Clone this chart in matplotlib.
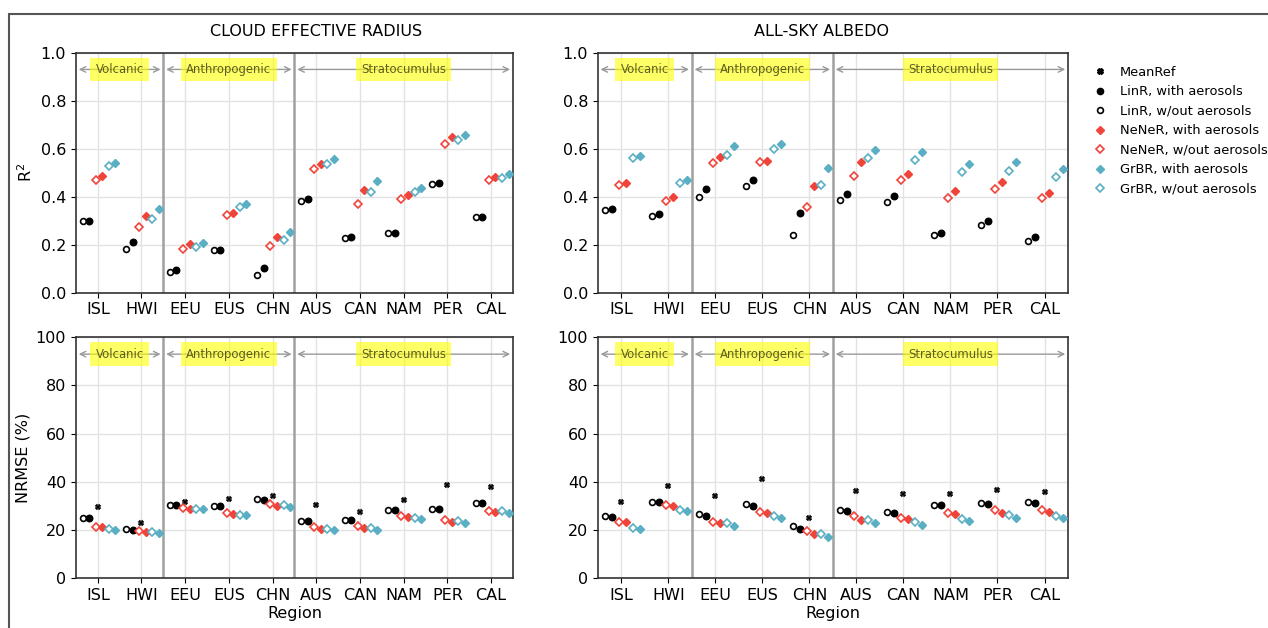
import matplotlib
matplotlib.use("Agg")
import matplotlib.pyplot as plt
import numpy as np
from matplotlib.patches import Rectangle
from matplotlib.lines import Line2D

regions = ["ISL", "HWI", "EEU", "EUS", "CHN", "AUS", "CAN", "NAM", "PER", "CAL"]

# R2, cloud effective radius
cer_r2_linr_wo = [0.299, 0.181, 0.088, 0.178, 0.074, 0.383, 0.229, 0.247, 0.453, 0.315]
cer_r2_linr_w = [0.299, 0.210, 0.094, 0.178, 0.103, 0.389, 0.232, 0.247, 0.458, 0.315]
cer_r2_nener_wo = [0.471, 0.274, 0.183, 0.322, 0.194, 0.514, 0.371, 0.390, 0.621, 0.468]
cer_r2_nener_w = [0.486, 0.318, 0.201, 0.333, 0.231, 0.535, 0.426, 0.408, 0.650, 0.483]
cer_r2_grbr_wo = [0.528, 0.307, 0.192, 0.356, 0.219, 0.535, 0.418, 0.421, 0.636, 0.476]
cer_r2_grbr_w = [0.540, 0.349, 0.208, 0.369, 0.251, 0.557, 0.464, 0.438, 0.658, 0.493]

# R2, all-sky albedo
alb_r2_linr_wo = [0.343, 0.319, 0.400, 0.443, 0.242, 0.386, 0.378, 0.240, 0.282, 0.217]
alb_r2_linr_w = [0.350, 0.328, 0.433, 0.471, 0.331, 0.411, 0.403, 0.250, 0.297, 0.232]
alb_r2_nener_wo = [0.450, 0.383, 0.539, 0.543, 0.356, 0.488, 0.471, 0.394, 0.433, 0.394]
alb_r2_nener_w = [0.456, 0.400, 0.567, 0.550, 0.446, 0.544, 0.494, 0.424, 0.461, 0.414]
alb_r2_grbr_wo = [0.560, 0.458, 0.575, 0.597, 0.447, 0.561, 0.553, 0.501, 0.506, 0.483]
alb_r2_grbr_w = [0.571, 0.468, 0.611, 0.619, 0.518, 0.594, 0.588, 0.538, 0.543, 0.517]

# NRMSE (%), cloud effective radius
cer_nrmse_meanref = [29.6, 22.7, 31.7, 33.0, 34.1, 30.3, 27.4, 32.5, 38.6, 37.8]
cer_nrmse_linr_wo = [24.8, 20.5, 30.5, 29.9, 32.8, 23.8, 24.1, 28.3, 28.5, 31.3]
cer_nrmse_linr_w = [24.8, 19.9, 30.3, 29.9, 32.4, 23.7, 24.0, 28.3, 28.5, 31.3]
cer_nrmse_nener_wo = [21.3, 19.7, 28.9, 27.0, 30.9, 21.2, 21.6, 25.8, 24.1, 27.7]
cer_nrmse_nener_w = [21.0, 19.0, 28.6, 26.7, 30.1, 20.5, 20.6, 25.2, 23.1, 27.3]
cer_nrmse_grbr_wo = [20.2, 19.3, 28.6, 26.3, 30.3, 20.5, 20.8, 24.9, 23.5, 27.7]
cer_nrmse_grbr_w = [19.9, 18.7, 28.5, 26.0, 29.5, 19.9, 19.8, 24.5, 22.9, 27.1]

# NRMSE (%), all-sky albedo
alb_nrmse_meanref = [31.6, 38.4, 34.1, 41.1, 24.9, 36.3, 34.8, 34.8, 36.7, 35.6]
alb_nrmse_linr_wo = [25.6, 31.7, 26.6, 30.7, 21.7, 28.4, 27.4, 30.5, 31.0, 31.6]
alb_nrmse_linr_w = [25.5, 31.4, 25.8, 29.9, 20.4, 27.8, 26.9, 30.2, 30.7, 31.3]
alb_nrmse_nener_wo = [23.4, 30.5, 23.4, 27.4, 19.7, 25.9, 25.1, 27.1, 28.1, 28.1]
alb_nrmse_nener_w = [23.1, 30.1, 22.7, 27.1, 18.3, 24.2, 24.7, 26.6, 27.1, 27.3]
alb_nrmse_grbr_wo = [20.9, 28.3, 22.7, 25.9, 18.4, 24.1, 23.1, 24.7, 26.2, 25.9]
alb_nrmse_grbr_w = [20.4, 28.0, 21.5, 25.1, 17.0, 23.0, 22.2, 23.7, 25.1, 24.9]

groups = [("Volcanic", -0.5, 1.5), ("Anthropogenic", 1.5, 4.5), ("Stratocumulus", 4.5, 9.5)]

RED = "#f0443a"
BLUE = "#5aafc4"
FS = 11.5

x = np.arange(len(regions))


def draw_models(ax, linr_wo, linr_w, nener_wo, nener_w, grbr_wo, grbr_w, meanref=None):
    ms = 4.2
    if meanref is not None:
        ax.plot(x, meanref, "X", color="black", ms=ms, mew=0.3, zorder=5)
    ax.plot(x - 0.35, linr_wo, "o", mfc="white", mec="black", mew=1.2, ms=ms, zorder=5)
    ax.plot(x - 0.20, linr_w, "o", color="black", ms=ms + 0.5, zorder=5)
    ax.plot(x - 0.05, nener_wo, "D", mfc="white", mec=RED, mew=1.2, ms=ms, zorder=5)
    ax.plot(x + 0.10, nener_w, "D", color=RED, ms=ms + 0.3, zorder=5)
    ax.plot(x + 0.25, grbr_wo, "D", mfc="white", mec=BLUE, mew=1.2, ms=ms, zorder=5)
    ax.plot(x + 0.40, grbr_w, "D", color=BLUE, ms=ms + 0.3, zorder=5)


def style_axes(ax, ymax, yticks):
    ax.set_xlim(-0.5, 9.5)
    ax.set_ylim(0, ymax)
    ax.set_xticks(x)
    ax.set_xticklabels(regions, fontsize=FS)
    ax.set_yticks(yticks)
    ax.tick_params(axis="y", labelsize=FS)
    ax.grid(True, color="#e2e2e2", linewidth=1)
    ax.set_axisbelow(True)
    for s in ax.spines.values():
        s.set_color("#333333")
        s.set_linewidth(1.2)
    for b in (1.5, 4.5):
        ax.axvline(b, color="#a0a0a0", linewidth=1.8, zorder=2)
    for name, lo, hi in groups:
        ax.annotate("", xy=(lo, 0.93), xytext=(hi, 0.93),
                    xycoords=("data", "axes fraction"), textcoords=("data", "axes fraction"),
                    arrowprops=dict(arrowstyle="<->", color="#999999", lw=1))
        ax.text((lo + hi) / 2, 0.93, name, transform=ax.get_xaxis_transform(),
                ha="center", va="center", fontsize=8.4, color="black", alpha=0.62,
                bbox=dict(boxstyle="square,pad=0.45", fc="yellow", ec="none", alpha=0.6))


fig = plt.figure(figsize=(12.68, 6.28), dpi=100)

# frame around the figure
fig.patches.append(Rectangle((9 / 1268, -0.1), 1.2, 1 - 14 / 628 + 0.1, transform=fig.transFigure,
                             fill=False, edgecolor="#555555", linewidth=1.5))

ax_tl = fig.add_axes([0.0599, 0.534, 0.3446, 0.3822])
ax_tr = fig.add_axes([0.4714, 0.534, 0.3709, 0.3822])
ax_bl = fig.add_axes([0.0599, 0.0796, 0.3446, 0.3833])
ax_br = fig.add_axes([0.4714, 0.0796, 0.3709, 0.3833])

r2_ticks = [0.0, 0.2, 0.4, 0.6, 0.8, 1.0]
nrmse_ticks = [0, 20, 40, 60, 80, 100]

style_axes(ax_tl, 1.0, r2_ticks)
draw_models(ax_tl, cer_r2_linr_wo, cer_r2_linr_w, cer_r2_nener_wo, cer_r2_nener_w,
            cer_r2_grbr_wo, cer_r2_grbr_w)
ax_tl.set_ylabel("R$^2$", fontsize=FS)

style_axes(ax_tr, 1.0, r2_ticks)
draw_models(ax_tr, alb_r2_linr_wo, alb_r2_linr_w, alb_r2_nener_wo, alb_r2_nener_w,
            alb_r2_grbr_wo, alb_r2_grbr_w)

style_axes(ax_bl, 100, nrmse_ticks)
draw_models(ax_bl, cer_nrmse_linr_wo, cer_nrmse_linr_w, cer_nrmse_nener_wo, cer_nrmse_nener_w,
            cer_nrmse_grbr_wo, cer_nrmse_grbr_w, cer_nrmse_meanref)
ax_bl.set_ylabel("NRMSE (%)", fontsize=FS)
ax_bl.set_xlabel("Region", fontsize=FS, labelpad=2)

style_axes(ax_br, 100, nrmse_ticks)
draw_models(ax_br, alb_nrmse_linr_wo, alb_nrmse_linr_w, alb_nrmse_nener_wo, alb_nrmse_nener_w,
            alb_nrmse_grbr_wo, alb_nrmse_grbr_w, alb_nrmse_meanref)
ax_br.set_xlabel("Region", fontsize=FS, labelpad=2)

fig.text(316 / 1268, 1 - 31 / 628, "CLOUD EFFECTIVE RADIUS", ha="center", va="center", fontsize=FS)
fig.text(822 / 1268, 1 - 31 / 628, "ALL-SKY ALBEDO", ha="center", va="center", fontsize=FS)

handles = [
    Line2D([], [], ls="", marker="X", color="black", ms=4.2),
    Line2D([], [], ls="", marker="o", color="black", ms=4.5),
    Line2D([], [], ls="", marker="o", mfc="white", mec="black", mew=1.2, ms=4.2),
    Line2D([], [], ls="", marker="D", color=RED, ms=4.5),
    Line2D([], [], ls="", marker="D", mfc="white", mec=RED, mew=1.2, ms=4.2),
    Line2D([], [], ls="", marker="D", color=BLUE, ms=4.5),
    Line2D([], [], ls="", marker="D", mfc="white", mec=BLUE, mew=1.2, ms=4.2),
]
labels = ["MeanRef", "LinR, with aerosols", "LinR, w/out aerosols", "NeNeR, with aerosols",
          "NeNeR, w/out aerosols", "GrBR, with aerosols", "GrBR, w/out aerosols"]
fig.legend(handles, labels, loc="upper left", bbox_to_anchor=(1078 / 1268, 1 - 54 / 628),
           frameon=False, fontsize=9.4, handletextpad=0.8, labelspacing=0.5, handlelength=1.5)

fig.savefig("out.png", dpi=100)
